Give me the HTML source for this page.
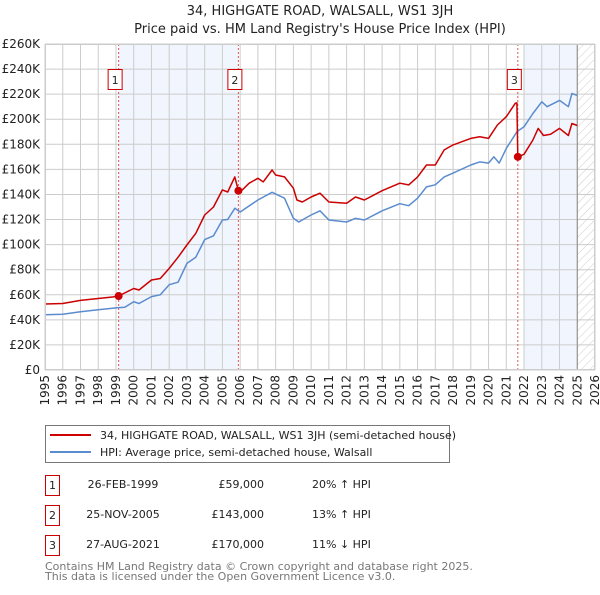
<!DOCTYPE html>
<html><head><meta charset="utf-8"><style>
body{margin:0;background:#fff;}
svg text{font-family:"DejaVu Sans","Liberation Sans",sans-serif;}
</style></head><body>
<svg id="chart" width="600" height="590" xmlns="http://www.w3.org/2000/svg">
<text x="320" y="15" text-anchor="middle" font-size="13" fill="#222">34, HIGHGATE ROAD, WALSALL, WS1 3JH</text>
<text x="320" y="33" text-anchor="middle" font-size="13" fill="#222">Price paid vs. HM Land Registry's House Price Index (HPI)</text>
<g id="plot"></g>
<g>
<rect x="45.5" y="425.5" width="404" height="37" fill="#fff" stroke="#777"/>
<line x1="50" y1="435" x2="91" y2="435" stroke="#cc0000" stroke-width="2"/>
<text x="100" y="439" font-size="11" fill="#222">34, HIGHGATE ROAD, WALSALL, WS1 3JH (semi-detached house)</text>
<line x1="50" y1="452" x2="91" y2="452" stroke="#5b8ccf" stroke-width="2"/>
<text x="100" y="456" font-size="11" fill="#222">HPI: Average price, semi-detached house, Walsall</text>
</g>
<g font-size="11" fill="#222">
<rect x="45.5" y="475.5" width="14" height="20" fill="none" stroke="#cc0000"/><text x="52.5" y="489" text-anchor="middle">1</text>
<text x="123" y="488" text-anchor="middle">26-FEB-1999</text><text x="264" y="488" text-anchor="end">£59,000</text><text x="312" y="488">20% ↑ HPI</text>
<rect x="45.5" y="505.5" width="14" height="20" fill="none" stroke="#cc0000"/><text x="52.5" y="519" text-anchor="middle">2</text>
<text x="123" y="518" text-anchor="middle">25-NOV-2005</text><text x="264" y="518" text-anchor="end">£143,000</text><text x="312" y="518">13% ↑ HPI</text>
<rect x="45.5" y="535.5" width="14" height="20" fill="none" stroke="#cc0000"/><text x="52.5" y="549" text-anchor="middle">3</text>
<text x="123" y="548" text-anchor="middle">27-AUG-2021</text><text x="264" y="548" text-anchor="end">£170,000</text><text x="312" y="548">11% ↓ HPI</text>
</g>
<text x="45" y="570" font-size="11" fill="#777">Contains HM Land Registry data © Crown copyright and database right 2025.</text>
<text x="45" y="580" font-size="11" fill="#777">This data is licensed under the Open Government Licence v3.0.</text>
</svg>
<script>
const hpiYears=[1995,1996,1997,1998,1999,1999.5,2000,2000.3,2001,2001.5,2002,2002.5,2003,2003.5,2004,2004.5,2005,2005.3,2005.7,2006,2007,2007.8,2008.5,2009,2009.3,2010,2010.5,2011,2012,2012.5,2013,2014,2015,2015.5,2016,2016.5,2017,2017.5,2018,2019,2019.5,2020,2020.3,2020.6,2021,2021.6,2022,2022.5,2023,2023.3,2024,2024.5,2024.7,2025];
const hpiValues=[44,44.5,46.5,48,49.5,50,54.5,53,58.5,60,68,70,85,90,104,107,119.6,120,129,126,135.6,141.7,137,121,118,123.6,127,119.6,118,121,119.6,127,132.6,131,137,146,147.7,154,157,163.5,166,165,170,165,176.7,190,194,204.6,213.9,210,215,210,220.5,219];
const priceYears=[1995,1996,1997,1998,1999,1999.15,2000,2000.3,2001,2001.5,2002,2002.5,2003,2003.5,2004,2004.5,2005,2005.3,2005.7,2005.9,2006,2006.5,2007,2007.3,2007.8,2008,2008.5,2009,2009.2,2009.5,2010,2010.5,2011,2012,2012.5,2013,2014,2015,2015.5,2016,2016.5,2017,2017.5,2018,2019,2019.5,2020,2020.5,2021,2021.5,2021.6,2021.65,2022,2022.5,2022.8,2023.1,2023.5,2024,2024.5,2024.7,2025];
const priceValues=[52.6,53,55.5,57,58.5,59,65,63.8,71.8,73,81,90,99.7,109,123.6,130,143.6,142,154,143,142,148.9,152.9,150,159.5,155.5,154,145,135.6,134,138,141,134,133,138,135.6,143,149,147.6,154,163.5,163.5,175.5,179.5,184.7,186,184.7,195.4,202,212.6,213,170,172,183.4,192.7,187,188,192.7,187,196.6,195];
const saleYears=[1999.15,2005.9,2021.65];
const saleValues=[59,143,170];
const saleLabels=["1","2","3"];
const yTicks=[0,20,40,60,80,100,120,140,160,180,200,220,240,260];
const xTicks=[1995,1996,1997,1998,1999,2000,2001,2002,2003,2004,2005,2006,2007,2008,2009,2010,2011,2012,2013,2014,2015,2016,2017,2018,2019,2020,2021,2022,2023,2024,2025,2026];
const shadeRanges=[[1999.15,2005.9],[2022.0,2025.0]];
const dataEnd=2025.0;

const X0=45,X1=595,Y0=370,Y1=44;
const xs=y=>X0+(y-1995)/(2026-1995)*(X1-X0);
const ys=v=>Y0-v/260*(Y0-Y1);
const NS="http://www.w3.org/2000/svg";
const g=document.getElementById('plot');
function mk(t,a){const e=document.createElementNS(NS,t);for(const k in a)e.setAttribute(k,a[k]);g.appendChild(e);return e;}

const defs=mk('defs',{});
defs.innerHTML='<pattern id="hatch" width="6" height="6" patternUnits="userSpaceOnUse" patternTransform="rotate(45)"><line x1="0" y1="0" x2="0" y2="6" stroke="#ccc" stroke-width="1"/></pattern>';
let r;
shadeRanges.forEach((s,i)=>{
 r=mk('rect',{x:xs(s[0]),y:Y1,width:xs(s[1])-xs(s[0]),height:Y0-Y1,fill:'#eef3fc',opacity:0.8});
 
 
});
r=mk('rect',{x:xs(dataEnd),y:Y1,width:X1-xs(dataEnd),height:Y0-Y1,fill:'url(#hatch)'});



yTicks.forEach(v=>{
 const l=mk('line',{x1:X0,x2:X1,y1:ys(v),y2:ys(v),stroke:'#cccccc','stroke-width':1});
 
 
 const t=mk('text',{x:40,y:ys(v)+4,'text-anchor':'end','font-size':12,fill:'#222'});
 t.textContent=v===0?'£0':'£'+v+'K';
 
 
});
xTicks.forEach(yr=>{
 const l=mk('line',{x1:xs(yr),x2:xs(yr),y1:Y1,y2:Y0,stroke:'#cccccc','stroke-width':1});
 
 
 const t=mk('text',{x:0,y:0,'text-anchor':'end','font-size':12,fill:'#222',transform:`translate(${xs(yr)+4},375) rotate(-90)`});
 t.textContent=yr;
 
 
});
const el=mk('line',{x1:xs(dataEnd),x2:xs(dataEnd),y1:Y1,y2:Y0,stroke:'#888','stroke-width':1});



saleYears.forEach((yr,i)=>{
 const l=mk('line',{x1:xs(yr),x2:xs(yr),y1:Y1,y2:Y0,stroke:'#e05555','stroke-width':1,'stroke-dasharray':'2,2'});
 
 
});

function path(xa,va,col,name){
 const d=xa.map((x,i)=>(i?'L':'M')+xs(x).toFixed(1)+','+ys(va[i]).toFixed(1)).join('');
 const p=mk('path',{d:d,fill:'none',stroke:col,'stroke-width':1.5,'stroke-linejoin':'round'});
 
 
}
path(hpiYears,hpiValues,'#5b8ccf','hpi-line');
path(priceYears,priceValues,'#cc0000','price-line');

saleYears.forEach((yr,i)=>{
 const c=mk('circle',{cx:xs(yr),cy:ys(saleValues[i]),r:4,fill:'#cc0000'});
 
 
 const b=mk('rect',{x:xs(yr)-10.5,y:69.5,width:14,height:20,fill:'#fff',stroke:'#cc0000'});
 
 
 const t=mk('text',{x:xs(yr)-3.5,y:84,'text-anchor':'middle','font-size':11,fill:'#222'});
 t.textContent=saleLabels[i];
 
 
});
const f=mk('rect',{x:X0+0.5,y:Y1+0.5,width:X1-X0-1,height:Y0-Y1-1,fill:'none',stroke:'#ccc'});


</script>
</body></html>
